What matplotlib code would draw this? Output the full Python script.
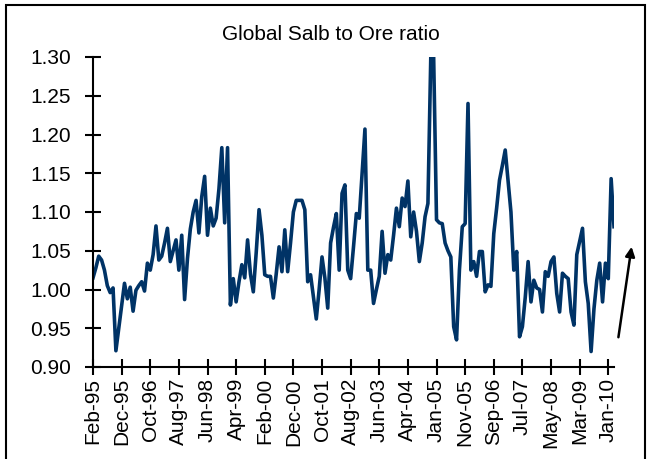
import matplotlib
matplotlib.use("Agg")
import matplotlib.pyplot as plt
from matplotlib.patches import Rectangle, FancyArrowPatch

plt.rcParams["font.family"] = ["Liberation Sans", "DejaVu Sans"]

title = "Global Salb to Ore ratio"

tick_labels = ["Feb-95", "Dec-95", "Oct-96", "Aug-97", "Jun-98", "Apr-99",
               "Feb-00", "Dec-00", "Oct-01", "Aug-02", "Jun-03", "Apr-04",
               "Jan-05", "Nov-05", "Sep-06", "Jul-07", "May-08", "Mar-09",
               "Jan-10"]

# Monthly Salb / Ore ratio, one value per category
ratio = [
    1.015, 1.028, 1.043, 1.038, 1.025, 1.005, 0.996, 1.002, 0.921, 0.950,
    0.980, 1.008, 0.988, 1.003, 0.972, 0.999, 1.005, 1.010, 0.998, 1.034,
    1.025, 1.045, 1.082, 1.038, 1.043, 1.060, 1.079, 1.036, 1.050, 1.064,
    1.025, 1.070, 0.987, 1.040, 1.078, 1.100, 1.115, 1.073, 1.120, 1.146,
    1.070, 1.105, 1.082, 1.092, 1.130, 1.183, 1.086, 1.183, 0.980, 1.014,
    0.984, 1.010, 1.032, 1.015, 1.064, 1.020, 0.997, 1.047, 1.103, 1.070,
    1.019, 1.017, 1.017, 0.989, 1.020, 1.055, 1.023, 1.077, 1.023, 1.060,
    1.100, 1.115, 1.115, 1.115, 1.103, 1.010, 1.019, 0.990, 0.962, 1.000,
    1.042, 1.015, 0.976, 1.060, 1.080, 1.098, 1.025, 1.124, 1.135, 1.025,
    1.014, 1.055, 1.098, 1.092, 1.150, 1.207, 1.025, 1.025, 0.982, 1.000,
    1.017, 1.075, 1.021, 1.045, 1.038, 1.070, 1.105, 1.081, 1.118, 1.107,
    1.140, 1.068, 1.100, 1.075, 1.036, 1.060, 1.094, 1.111, 1.300, 1.300,
    1.090, 1.086, 1.085, 1.060, 1.050, 1.042, 0.952, 0.935, 1.025, 1.081,
    1.085, 1.240, 1.025, 1.036, 1.017, 1.049, 1.049, 0.997, 1.006, 1.004,
    1.072, 1.105, 1.141, 1.160, 1.180, 1.140, 1.100, 1.025, 1.049, 0.939,
    0.952, 0.990, 1.036, 0.984, 1.012, 1.002, 1.000, 0.971, 1.023, 1.017,
    1.036, 1.042, 0.995, 0.971, 1.021, 1.017, 1.014, 0.971, 0.954, 1.045,
    1.062, 1.079, 1.010, 0.982, 0.920, 0.975, 1.012, 1.034, 0.984, 1.034,
    1.014, 1.143, 1.081,
]

y_ticks = [0.90, 0.95, 1.00, 1.05, 1.10, 1.15, 1.20, 1.25, 1.30]

W, H = 647, 459
fig = plt.figure(figsize=(W / 100, H / 100), dpi=100)
ax = fig.add_axes([93 / W, 1 - 367 / H, (614 - 93) / W, (367 - 57) / H])

x = list(range(len(ratio)))
ax.plot(x, ratio, color="#003366", lw=2.6, solid_joinstyle="round")

ax.set_xlim(0, len(ratio) - 1)
ax.set_ylim(0.90, 1.30)
ax.set_yticks(y_ticks)
ax.set_yticklabels([f"{v:.2f}" for v in y_ticks])
ax.set_xticks(range(0, 10 * len(tick_labels), 10))
ax.set_xticklabels(tick_labels, rotation=90)

for s in ("top", "right"):
    ax.spines[s].set_visible(False)
for s in ("left", "bottom"):
    ax.spines[s].set_linewidth(1.5)
    ax.spines[s].set_color("black")
ax.tick_params(axis="both", direction="inout", length=12, width=1.5,
               labelsize=15, colors="black")
ax.tick_params(axis="y", pad=10)
ax.tick_params(axis="x", pad=2)

fig.text(331 / W, 1 - 35 / H, title, ha="center", va="center", fontsize=15)

# Outer frame around the chart
fig.patches.append(Rectangle((6 / W, -0.02), (645 - 6) / W, 1 - 5 / H + 0.02,
                             transform=fig.transFigure, fill=False,
                             edgecolor="black", lw=1.5))

# Upward trend arrow at the right edge
fig.add_artist(FancyArrowPatch(
    (618 / W, 1 - 340 / H), (632 / W, 1 - 244 / H),
    transform=fig.transFigure, arrowstyle="-|>", mutation_scale=14,
    color="black", lw=1.8))

fig.savefig("out.png", dpi=100)
